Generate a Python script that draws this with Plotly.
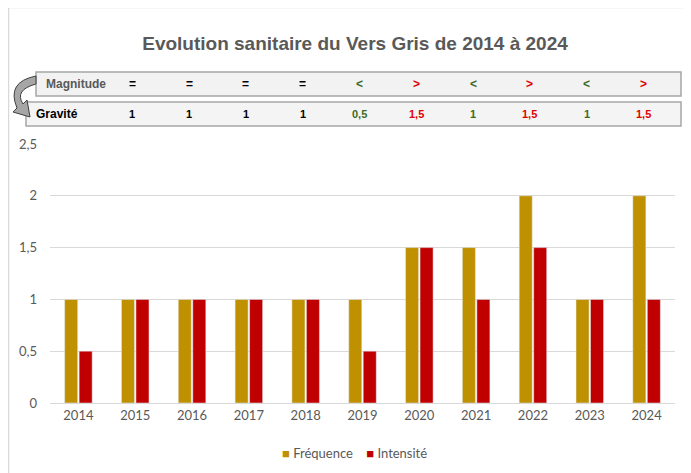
import plotly.graph_objects as go

years = ["2014", "2015", "2016", "2017", "2018", "2019", "2020", "2021", "2022", "2023", "2024"]
frequence = [1, 1, 1, 1, 1, 1, 1.5, 1.5, 2, 1, 2]
intensite = [0.5, 1, 1, 1, 1, 0.5, 1.5, 1, 1.5, 1, 1]

table_years = ["2015", "2016", "2017", "2018", "2019", "2020", "2021", "2022", "2023", "2024"]
magnitude = ["=", "=", "=", "=", "<", ">", "<", ">", "<", ">"]
gravite = ["1", "1", "1", "1", "0,5", "1,5", "1", "1,5", "1", "1,5"]

series_names = ["Fréquence", "Intensité"]
series_colors = ["#BF9000", "#C00000"]

OFF = 8  # page body margin offset
W, H = 691 - OFF, 473 - OFF
L, R, T, B = 50 - OFF, 16, 144 - OFF, 70
PW, PH = W - L - R, H - T - B


def px(x):
    return (x - OFF - L) / PW


def py(y):
    return (H - B - (y - OFF)) / PH


GREEN = "#3A6B1F"
RED = "#E00000"
sym_color = {"=": "#000000", "<": GREEN, ">": RED}
esc = {"=": "=", "<": "&lt;", ">": "&gt;"}

fig = go.Figure()
fig.add_bar(x=years, y=frequence, name=series_names[0], marker_color=series_colors[0])
fig.add_bar(x=years, y=intensite, name=series_names[1], marker_color=series_colors[1])

shapes = []
# outer frame
shapes.append(dict(type="rect", xref="paper", yref="paper", x0=px(8.5), x1=px(688), y0=py(490), y1=py(7.5),
                   line=dict(color="#D9D9D9", width=1.5), fillcolor="rgba(0,0,0,0)", layer="below"))
# table boxes
shapes.append(dict(type="rect", xref="paper", yref="paper", x0=px(36), x1=px(681), y0=py(96), y1=py(72),
                   line=dict(color="#A6A6A6", width=1.5), fillcolor="#F2F2F2"))
shapes.append(dict(type="rect", xref="paper", yref="paper", x0=px(26), x1=px(681), y0=py(126), y1=py(102),
                   line=dict(color="#A6A6A6", width=1.5), fillcolor="#F4F4F4"))


def P(x, y):
    return f"{px(x):.5f},{py(y):.5f}"


arrow = ("M " + P(36, 76) + " Q " + P(6, 82) + " " + P(17, 108)
         + " L " + P(13, 112) + " L " + P(30, 117) + " L " + P(27, 100)
         + " L " + P(23, 104) + " Q " + P(14, 90) + " " + P(36, 84) + " Z")
shapes.append(dict(type="path", xref="paper", yref="paper", path=arrow,
                   fillcolor="#A6A6A6", line=dict(color="#404040", width=1)))

annotations = []
tfont = "Liberation Sans, Arial, sans-serif"
annotations.append(dict(text="<b>Magnitude</b>", xref="paper", yref="paper", x=px(76), y=py(84),
                        xanchor="center", yanchor="middle",
                        showarrow=False, font=dict(family=tfont, size=12, color="#595959")))
annotations.append(dict(text="<b>Gravité</b>", xref="paper", yref="paper", x=px(57), y=py(114),
                        xanchor="center", yanchor="middle",
                        showarrow=False, font=dict(family=tfont, size=12, color="#000000")))
for yr, m, g in zip(table_years, magnitude, gravite):
    xi = years.index(yr)
    annotations.append(dict(text=f"<b>{esc[m]}</b>", xref="x", yref="paper", x=xi, y=py(84), xshift=-3,
                            xanchor="center", yanchor="middle",
                            showarrow=False, font=dict(family=tfont, size=12, color=sym_color[m])))
    gc = "#000000" if m == "=" else (GREEN if m == "<" else RED)
    annotations.append(dict(text=f"<b>{g}</b>", xref="x", yref="paper", x=xi, y=py(114), xshift=-3,
                            xanchor="center", yanchor="middle",
                            showarrow=False, font=dict(family=tfont, size=11, color=gc)))

# legend drawn as text with coloured squares
legend_text = "\u00a0\u00a0\u00a0\u00a0".join(
    f"<span style='color:{c}'>■</span>\u00a0{n}" for n, c in zip(series_names, series_colors))
annotations.append(dict(text=legend_text, xref="paper", yref="paper", x=px(354), y=py(453),
                        xanchor="center", yanchor="middle", showarrow=False,
                        font=dict(family="Lato, sans-serif", size=13, color="#595959")))

fig.update_layout(
    width=W, height=H,
    margin=dict(l=L, r=R, t=T, b=B, autoexpand=False),
    paper_bgcolor="white", plot_bgcolor="white",
    separators=", ",
    showlegend=False,
    barmode="group", bargap=0.49, bargroupgap=0.1,
    title=dict(text="<b>Evolution sanitaire du Vers Gris de 2014 à 2024</b>", xref="paper", x=px(355),
               xanchor="center", yref="container", y=1 - (43 - OFF) / H, yanchor="middle",
               font=dict(family=tfont, size=19, color="#595959")),
    shapes=shapes,
    annotations=annotations,
    font=dict(family="Lato, sans-serif", color="#595959"),
)
fig.update_xaxes(type="category", range=[-0.5, len(years) - 0.5], showgrid=False, showline=True,
                 linecolor="#D9D9D9", ticks="", automargin=False,
                 tickfont=dict(family="Lato, sans-serif", size=13, color="#595959"))
fig.update_yaxes(range=[0, 2.5], dtick=0.5, showgrid=True, gridcolor="#D9D9D9", zeroline=False,
                 ticks="", ticklabelstandoff=12, automargin=False,
                 tickfont=dict(family="Lato, sans-serif", size=13, color="#595959"))

fig.write_html("out.html")
